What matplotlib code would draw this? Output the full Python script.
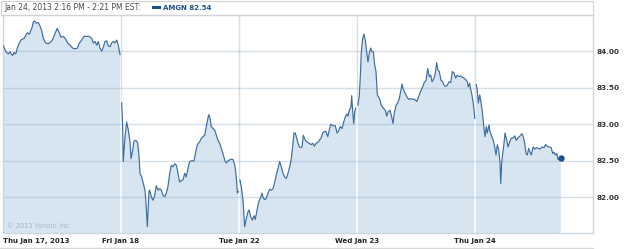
import numpy as np
import matplotlib
matplotlib.use("Agg")
import matplotlib.pyplot as plt
from matplotlib.patches import Rectangle
from matplotlib.lines import Line2D

# intraday AMGN prices, position = fraction of the trading session (0 = open, 1 = close)
jan17_pos = [0.003, 0.025, 0.045, 0.059, 0.074, 0.082, 0.093, 0.108, 0.121, 0.138,
             0.158, 0.178, 0.195, 0.206, 0.223, 0.235, 0.246, 0.257, 0.269, 0.280,
             0.299, 0.314, 0.328, 0.342, 0.362, 0.384, 0.404, 0.421, 0.441, 0.460,
             0.477, 0.492, 0.511, 0.528, 0.548, 0.568, 0.591, 0.610, 0.630, 0.647,
             0.667, 0.686, 0.709, 0.731, 0.752, 0.765, 0.780, 0.794, 0.808, 0.822,
             0.836, 0.850, 0.864, 0.879, 0.892, 0.907, 0.921, 0.935, 0.949, 0.964,
             0.977, 0.992]
jan17_px = [84.07, 83.99, 83.96, 83.99, 83.95, 83.94, 83.98, 83.96, 84.04, 84.11,
            84.16, 84.17, 84.22, 84.25, 84.23, 84.28, 84.32, 84.40, 84.41, 84.38,
            84.39, 84.34, 84.28, 84.17, 84.11, 84.10, 84.12, 84.16, 84.24, 84.31,
            84.25, 84.19, 84.20, 84.17, 84.11, 84.08, 84.04, 84.03, 84.04, 84.11,
            84.15, 84.20, 84.20, 84.20, 84.17, 84.11, 84.13, 84.08, 84.13, 84.04,
            84.00, 84.05, 84.13, 84.14, 84.07, 84.06, 84.11, 84.13, 84.11, 84.15,
            84.08, 83.95]

jan18_pos = [0.006, 0.014, 0.019, 0.034, 0.048, 0.062, 0.076, 0.085, 0.099, 0.110,
             0.127, 0.142, 0.153, 0.161, 0.175, 0.189, 0.203, 0.212, 0.223, 0.237,
             0.243, 0.257, 0.271, 0.286, 0.299, 0.314, 0.328, 0.342, 0.356, 0.370,
             0.384, 0.398, 0.413, 0.426, 0.441, 0.455, 0.469, 0.483, 0.497, 0.511,
             0.525, 0.540, 0.553, 0.568, 0.582, 0.596, 0.619, 0.633, 0.647, 0.667,
             0.681, 0.695, 0.709, 0.723, 0.743, 0.754, 0.765, 0.780, 0.794, 0.808,
             0.822, 0.836, 0.850, 0.864, 0.879, 0.892, 0.907, 0.929, 0.949, 0.964,
             0.972, 0.981, 0.986, 0.994]
jan18_px = [83.29, 82.97, 82.49, 82.83, 83.03, 82.92, 82.76, 82.53, 82.65, 82.77,
            82.78, 82.74, 82.56, 82.33, 82.28, 82.19, 82.10, 81.92, 81.60, 82.08,
            82.10, 82.01, 81.96, 82.03, 82.16, 82.10, 82.12, 82.10, 82.03, 82.01,
            82.06, 82.15, 82.33, 82.44, 82.42, 82.46, 82.44, 82.33, 82.21, 82.23,
            82.24, 82.33, 82.28, 82.40, 82.49, 82.50, 82.50, 82.62, 82.72, 82.76,
            82.81, 82.83, 82.85, 82.97, 83.13, 83.09, 82.97, 82.94, 82.92, 82.85,
            82.78, 82.74, 82.67, 82.60, 82.51, 82.47, 82.50, 82.52, 82.52, 82.44,
            82.35, 82.19, 82.06, 82.08]

jan22_pos = [0.008, 0.019, 0.034, 0.048, 0.062, 0.076, 0.085, 0.099, 0.113, 0.127,
             0.138, 0.153, 0.167, 0.181, 0.195, 0.206, 0.218, 0.231, 0.246, 0.260,
             0.274, 0.288, 0.303, 0.316, 0.331, 0.345, 0.358, 0.373, 0.387, 0.401,
             0.415, 0.430, 0.443, 0.452, 0.466, 0.477, 0.497, 0.511, 0.525, 0.534,
             0.545, 0.562, 0.582, 0.596, 0.610, 0.625, 0.638, 0.653, 0.667, 0.681,
             0.695, 0.709, 0.723, 0.737, 0.752, 0.765, 0.777, 0.794, 0.816, 0.831,
             0.845, 0.858, 0.873, 0.887, 0.901, 0.913, 0.924, 0.935, 0.949, 0.955,
             0.963, 0.972, 0.981, 0.989]
jan22_px = [82.24, 82.15, 81.96, 81.60, 81.71, 81.80, 81.83, 81.74, 81.69, 81.75,
            81.70, 81.83, 81.94, 81.99, 82.06, 81.99, 81.97, 81.99, 82.06, 82.11,
            82.10, 82.12, 82.21, 82.31, 82.40, 82.49, 82.42, 82.33, 82.28, 82.26,
            82.33, 82.42, 82.53, 82.65, 82.88, 82.88, 82.76, 82.69, 82.68, 82.69,
            82.85, 82.78, 82.75, 82.74, 82.72, 82.74, 82.70, 82.74, 82.75, 82.78,
            82.81, 82.88, 82.90, 82.90, 82.83, 82.92, 83.00, 82.98, 82.98, 82.88,
            82.91, 82.97, 82.94, 83.03, 83.10, 83.14, 83.11, 83.19, 83.24, 83.39,
            83.19, 83.01, 83.17, 83.22]

jan23_pos = [0.008, 0.019, 0.028, 0.036, 0.048, 0.059, 0.070, 0.082, 0.093, 0.104,
             0.116, 0.127, 0.138, 0.150, 0.161, 0.172, 0.184, 0.195, 0.206, 0.223,
             0.240, 0.252, 0.263, 0.280, 0.294, 0.305, 0.316, 0.331, 0.345, 0.358,
             0.373, 0.381, 0.392, 0.409, 0.424, 0.438, 0.452, 0.472, 0.489, 0.506,
             0.517, 0.534, 0.551, 0.570, 0.585, 0.599, 0.613, 0.625, 0.636, 0.653,
             0.664, 0.675, 0.686, 0.697, 0.712, 0.726, 0.743, 0.760, 0.780, 0.794,
             0.808, 0.822, 0.836, 0.850, 0.864, 0.879, 0.892, 0.907, 0.921, 0.935,
             0.943, 0.955, 0.964, 0.972, 0.983, 0.992, 0.998]
jan23_px = [83.26, 83.38, 83.65, 83.97, 84.17, 84.23, 84.15, 83.99, 83.85, 83.97,
            84.04, 83.99, 83.99, 83.81, 83.72, 83.40, 83.37, 83.33, 83.26, 83.22,
            83.19, 83.11, 83.17, 83.19, 83.10, 83.01, 83.15, 83.26, 83.29, 83.35,
            83.47, 83.55, 83.48, 83.42, 83.37, 83.34, 83.35, 83.34, 83.34, 83.31,
            83.35, 83.43, 83.49, 83.57, 83.60, 83.76, 83.65, 83.67, 83.58, 83.63,
            83.70, 83.84, 83.74, 83.72, 83.60, 83.58, 83.52, 83.52, 83.58, 83.57,
            83.72, 83.70, 83.63, 83.67, 83.65, 83.66, 83.64, 83.63, 83.61, 83.58,
            83.51, 83.56, 83.47, 83.42, 83.31, 83.19, 83.08]

jan24_pos = [0.011, 0.019, 0.028, 0.040, 0.048, 0.062, 0.076, 0.085, 0.096, 0.104,
             0.119, 0.127, 0.142, 0.155, 0.167, 0.178, 0.189, 0.201, 0.212, 0.218,
             0.226, 0.235, 0.246, 0.254, 0.265, 0.280, 0.294, 0.308, 0.322, 0.336,
             0.350, 0.364, 0.381, 0.398, 0.409, 0.421, 0.432, 0.443, 0.455, 0.466,
             0.477, 0.492, 0.506, 0.519, 0.536, 0.551, 0.568, 0.585, 0.599, 0.613,
             0.626, 0.646, 0.658, 0.669, 0.681, 0.693, 0.703, 0.715, 0.727]
jan24_px = [83.54, 83.47, 83.29, 83.40, 83.33, 83.17, 82.94, 82.83, 82.97, 82.88,
            82.99, 82.90, 82.83, 82.78, 82.69, 82.58, 82.72, 82.65, 82.47, 82.19,
            82.47, 82.60, 82.74, 82.88, 82.81, 82.69, 82.76, 82.81, 82.81, 82.84,
            82.78, 82.81, 82.84, 82.87, 82.83, 82.74, 82.60, 82.58, 82.67, 82.62,
            82.58, 82.69, 82.66, 82.68, 82.67, 82.66, 82.69, 82.68, 82.72, 82.70,
            82.69, 82.68, 82.60, 82.62, 82.58, 82.60, 82.52, 82.53, 82.54]

day_labels = ["Thu Jan 17, 2013", "Fri Jan 18", "Tue Jan 22", "Wed Jan 23", "Thu Jan 24"]
price_ticks = [82.0, 82.5, 83.0, 83.5, 84.0]
header = "Jan 24, 2013 2:16 PM - 2:21 PM EST:"
symbol = "AMGN"
last_price = 82.54

days = [(jan17_pos, jan17_px), (jan18_pos, jan18_px), (jan22_pos, jan22_px),
        (jan23_pos, jan23_px), (jan24_pos, jan24_px)]

line_col = "#3f6d9f"
fill_col = "#d6e5f0"
dark_blue = "#1c4f8c"

W, H = 625, 249
fig = plt.figure(figsize=(W / 100, H / 100), dpi=100)
fig.patch.set_facecolor("white")

# plot area: px 3..593 horizontally, 15..233 vertically
ax = fig.add_axes([3 / W, (H - 233) / H, 590 / W, 218 / H])
ax.set_xlim(0, 5)
ax.set_ylim(81.514, 84.492)

# join the sessions on one axis
all_t = np.concatenate([np.array(p) + i for i, (p, _) in enumerate(days)])
all_v = np.concatenate([np.array(v) for _, v in days])

# vertical grid under the fill (shows only on white)
for i in range(1, 5):
    ax.axvline(i, color="#d3dfe8", lw=1, zorder=0)

poly = ax.fill_between(all_t, all_v, 81.0, color=fill_col, lw=0, zorder=1)

# white part of the vertical grid, only inside the fill
for i in range(1, 5):
    wl = ax.axvline(i, color="white", lw=1.1, zorder=2)
    wl.set_clip_path(poly.get_paths()[0], ax.transData)

for yv in price_ticks:
    ax.axhline(yv, color="#7f9fba", alpha=0.32, lw=1, zorder=2)

for i, (p, v) in enumerate(days):
    ax.plot(np.array(p) + i, v, color=line_col, lw=0.85, zorder=3)

ax.plot([all_t[-1]], [last_price], "o", color=dark_blue, ms=3.6, zorder=4)

for s in ax.spines.values():
    s.set_color("#ccd6df")
    s.set_linewidth(1)

ax.set_xticks(range(5))
ax.set_xticklabels(day_labels, fontsize=5.0, fontweight="bold", color="#222222")
ax.get_xticklabels()[0].set_horizontalalignment("left")
ax.tick_params(axis="x", length=0, pad=3.5)

ax.yaxis.tick_right()
ax.set_yticks(price_ticks)
ax.set_yticklabels(["%.2f" % t for t in price_ticks], fontsize=5.2,
                   fontweight="bold", color="#333333")
ax.tick_params(axis="y", length=0, pad=2.5)

ax.text(0.006, 0.018, "\u00a9 2013 Yahoo! Inc.", transform=ax.transAxes,
        fontsize=4.8, color="#aab6c2", va="bottom", ha="left", zorder=5)

# header box
fig.add_artist(Rectangle((1 / W, 1 - 15 / H), 592 / W, 14 / H, transform=fig.transFigure,
                         fill=False, edgecolor="#d2d2d2", lw=0.8))
fig.add_artist(Line2D([0, 593 / W], [1 - 247.5 / H] * 2, transform=fig.transFigure,
                      color="#d8d8d8", lw=1))
fig.text(4 / W, 1 - 8 / H, header, fontsize=5.5, color="#4a4a4a", va="center", ha="left")
fig.add_artist(Rectangle((152 / W, 1 - 9 / H), 9 / W, 3 / H, transform=fig.transFigure,
                         color=dark_blue, lw=0))
fig.text(163 / W, 1 - 8 / H, "%s %.2f" % (symbol, last_price), fontsize=5.0,
         fontweight="bold", color=dark_blue, va="center", ha="left")

fig.savefig("out.png", dpi=100)
